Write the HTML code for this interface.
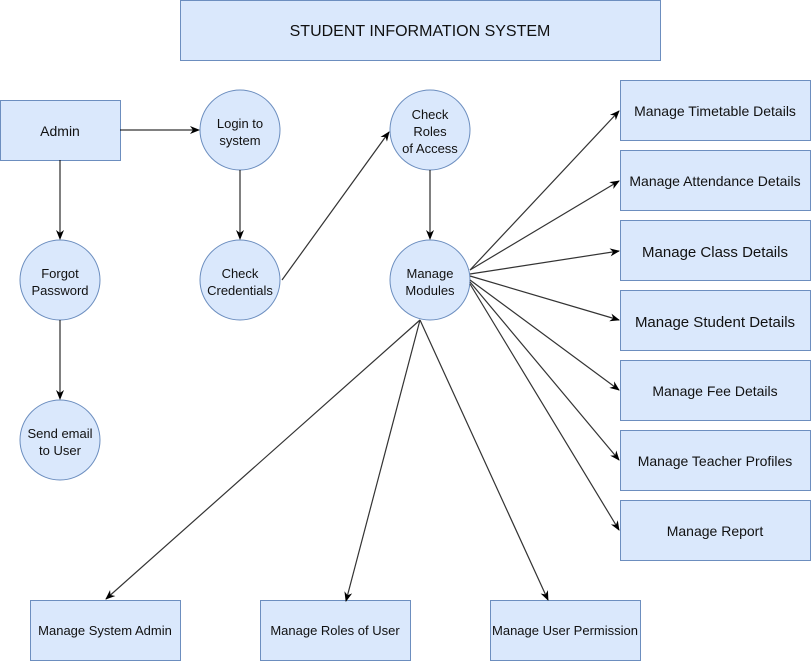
<!DOCTYPE html>
<html><head><meta charset="utf-8"><style>html,body{margin:0;padding:0;background:#fff}svg{display:block}text{font-family:"Liberation Sans",sans-serif;fill:#111}</style></head>
<body>
<svg width="811" height="661" xmlns="http://www.w3.org/2000/svg">
<defs><marker id="a" markerWidth="10" markerHeight="10" refX="9" refY="5" orient="auto" markerUnits="userSpaceOnUse"><path d="M0,1 L10,5 L0,9 L3,5 Z" fill="#000"/></marker></defs>
<g fill="#dae8fc" stroke="#6c8ebf" stroke-width="1">
<rect x="180.5" y="0.5" width="480" height="60"/>
<rect x="0.5" y="100.5" width="120" height="60"/>
<circle cx="240" cy="130" r="40"/><circle cx="240" cy="280" r="40"/>
<circle cx="60" cy="280" r="40"/><circle cx="60" cy="440" r="40"/>
<circle cx="430" cy="130" r="40"/><circle cx="430" cy="280" r="40"/>
<rect x="620.5" y="80.5" width="190" height="60"/>
<rect x="620.5" y="150.5" width="190" height="60"/>
<rect x="620.5" y="220.5" width="190" height="60"/>
<rect x="620.5" y="290.5" width="190" height="60"/>
<rect x="620.5" y="360.5" width="190" height="60"/>
<rect x="620.5" y="430.5" width="190" height="60"/>
<rect x="620.5" y="500.5" width="190" height="60"/>
<rect x="30.5" y="600.5" width="150" height="60"/>
<rect x="260.5" y="600.5" width="150" height="60"/>
<rect x="490.5" y="600.5" width="150" height="60"/>
</g>
<g stroke="#000" stroke-width="1" fill="none" marker-end="url(#a)">
<line x1="120" y1="130" x2="199" y2="130"/>
<line x1="60" y1="160" x2="60" y2="239"/>
<line x1="60" y1="320" x2="60" y2="399"/>
<line x1="240" y1="170" x2="240" y2="239"/>
<line x1="430" y1="170" x2="430" y2="239"/>
</g>
<g stroke="#333" stroke-width="1.2" fill="none" marker-end="url(#a)">
<line x1="282" y1="280" x2="389" y2="132"/>
<line x1="470" y1="270" x2="619" y2="111"/>
<line x1="470" y1="270" x2="619" y2="181"/>
<line x1="470" y1="274" x2="619" y2="251"/>
<line x1="470" y1="276" x2="619" y2="320"/>
<line x1="470" y1="280" x2="619" y2="390"/>
<line x1="470" y1="282" x2="619" y2="460"/>
<line x1="470" y1="284" x2="619" y2="530"/>
<line x1="420" y1="320" x2="106" y2="599"/>
<line x1="420" y1="320" x2="346" y2="601"/>
<line x1="420" y1="320" x2="548" y2="600"/>
</g>
<g text-anchor="middle" font-size="13">
<text x="420" y="36" font-size="16">STUDENT INFORMATION SYSTEM</text>
<text x="60" y="136" font-size="14">Admin</text>
<text x="240" y="128">Login to</text><text x="240" y="145">system</text>
<text x="240" y="278">Check</text><text x="240" y="295">Credentials</text>
<text x="60" y="278">Forgot</text><text x="60" y="295">Password</text>
<text x="60" y="438">Send email</text><text x="60" y="455">to User</text>
<text x="430" y="119">Check</text><text x="430" y="136">Roles</text><text x="430" y="153">of Access</text>
<text x="430" y="278">Manage</text><text x="430" y="295">Modules</text>
<text x="715" y="116" font-size="14">Manage Timetable Details</text>
<text x="715" y="186" font-size="14">Manage Attendance Details</text>
<text x="715" y="257" font-size="15">Manage Class Details</text>
<text x="715" y="327" font-size="15">Manage Student Details</text>
<text x="715" y="396" font-size="14">Manage Fee Details</text>
<text x="715" y="466" font-size="14">Manage Teacher Profiles</text>
<text x="715" y="536" font-size="14">Manage Report</text>
<text x="105" y="635">Manage System Admin</text>
<text x="335" y="635">Manage Roles of User</text>
<text x="565" y="635">Manage User Permission</text>
</g>
</svg>
</body></html>
